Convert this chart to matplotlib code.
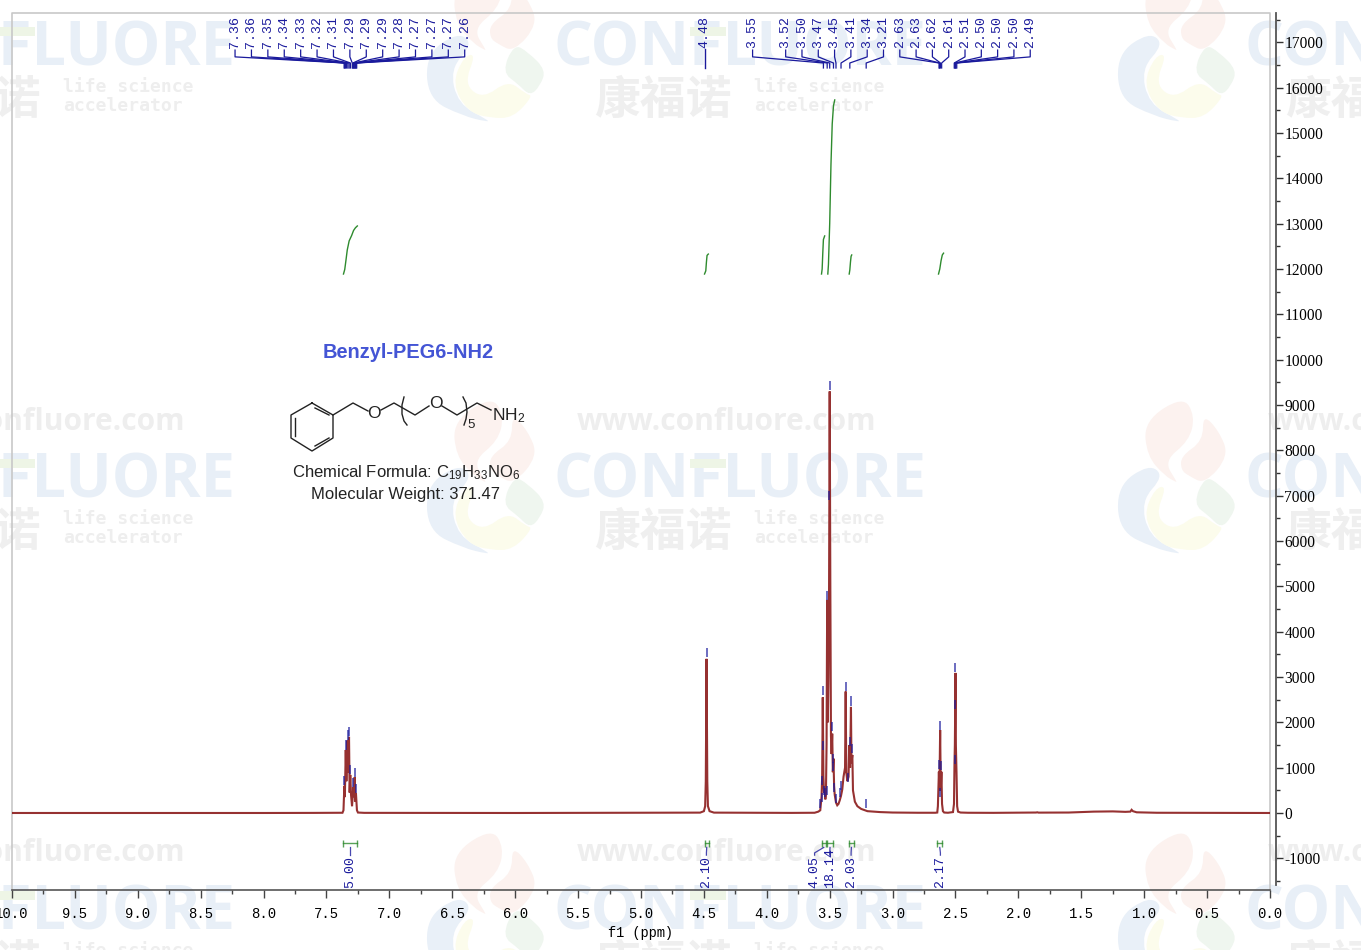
import matplotlib
matplotlib.use("Agg")
import matplotlib.pyplot as plt
from matplotlib.path import Path
from matplotlib.patches import PathPatch, Rectangle

plt.rcParams["axes.unicode_minus"] = False
plt.rcParams["mathtext.default"] = "regular"

# spectrum
spec_ppm = [10.0, 8.0, 7.6, 7.373, 7.365, 7.358, 7.354, 7.347, 7.342, 7.333, 7.327, 7.321, 7.316, 7.311, 7.305,
            7.297, 7.287, 7.281, 7.276, 7.271, 7.266, 7.258, 7.25, 7.2, 6.0, 4.53, 4.50, 4.49, 4.485, 4.481, 4.479,
            4.477, 4.473, 4.468, 4.455, 4.42, 3.8, 3.62, 3.59, 3.575, 3.565, 3.56, 3.555, 3.55, 3.545, 3.54, 3.535,
            3.53, 3.525, 3.52, 3.515, 3.51, 3.505, 3.50, 3.495, 3.49, 3.485, 3.48, 3.475, 3.47, 3.465, 3.46, 3.45,
            3.44, 3.43, 3.42, 3.41, 3.40, 3.39, 3.378, 3.373, 3.368, 3.36, 3.35, 3.345, 3.338, 3.331, 3.327, 3.32,
            3.315, 3.30, 3.28, 3.25, 3.20, 3.10, 3.0, 2.8, 2.66, 2.645, 2.64, 2.632, 2.628, 2.622, 2.617, 2.612,
            2.607, 2.60, 2.59, 2.56, 2.52, 2.512, 2.508, 2.505, 2.50, 2.497, 2.492, 2.487, 2.48, 2.46, 2.40, 2.2,
            1.86, 1.85, 1.84, 1.6, 1.4, 1.25, 1.15, 1.11, 1.10, 1.09, 1.06, 0.9, 0.0]
spec_val = [0, 0, 2, 5, 60, 600, 350, 1390, 700, 1600, 900, 1680, 450, 840, 400,
            150, 570, 350, 790, 250, 440, 60, 10, 3, 0, 8, 40, 150, 700, 2500, 3400,
            2500, 700, 150, 40, 8, 2, 5, 30, 60, 350, 800, 2550, 800, 450, 500, 300,
            400, 1500, 4700, 2000, 3000, 5000, 9300, 5000, 1700, 1300, 1750, 900, 1200, 600, 400, 230,
            170, 200, 280, 380, 520, 800, 1000, 2680, 900, 700, 800, 1500, 1000, 2340, 1100, 1280,
            500, 250, 150, 90, 40, 20, 10, 5, 5, 10, 150, 910, 500, 1830, 500, 910,
            200, 40, 10, 5, 20, 200, 1100, 1500, 3090, 1500, 900, 150, 30, 10, 5, 3,
            10, 15, 8, 10, 30, 35, 25, 30, 70, 40, 15, 5, 0]

# blue peak-pick ticks, value at the lower end of each tick
pick_ppm = [7.358, 7.347, 7.333, 7.321, 7.311, 7.287, 7.276, 7.266, 4.479, 3.58, 3.565, 3.56, 3.555, 3.552, 3.545,
            3.54, 3.52, 3.525, 3.50, 3.505, 3.48, 3.475, 3.47, 3.465, 3.45, 3.42, 3.41, 3.373, 3.331, 3.34, 3.32,
            3.353, 3.21, 2.632, 2.622, 2.622, 2.612, 2.50, 2.50, 2.50]
pick_val = [610, 1400, 1620, 1700, 850, 580, 800, 450, 3450, 110, 240, 620, 2600, 1390, 400,
            350, 4700, 400, 9330, 6900, 1800, 1100, 930, 470, 220, 350, 510, 2700, 2370, 1480, 1320,
            680, 110, 970, 1840, 350, 950, 3100, 2290, 1080]

# peak labels on top
peak_labels1 = ["7.36", "7.36", "7.35", "7.34", "7.33", "7.32", "7.31", "7.29", "7.29", "7.29", "7.28", "7.27",
                "7.27", "7.27", "7.26"]
peak_ppm1 = [7.36, 7.355, 7.35, 7.34, 7.33, 7.32, 7.31, 7.295, 7.29, 7.285, 7.28, 7.275, 7.27, 7.265, 7.26]
peak_labels2 = ["3.55", "3.52", "3.50", "3.47", "3.45", "3.41", "3.34", "3.21", "2.63", "2.63", "2.62", "2.61",
                "2.51", "2.50", "2.50", "2.50", "2.49"]
peak_ppm2 = [3.55, 3.52, 3.50, 3.47, 3.45, 3.41, 3.34, 3.21, 2.63, 2.628, 2.62, 2.61, 2.51, 2.505, 2.50, 2.497, 2.49]

# integrals: curve in the upper part, bracket and number at the bottom
int_curves = [
    ([7.365, 7.355, 7.345, 7.335, 7.32, 7.30, 7.285, 7.27, 7.255], [11890, 11990, 12200, 12420, 12620, 12740, 12850, 12910, 12950]),
    ([4.495, 4.485, 4.48, 4.475, 4.465], [11890, 11960, 12150, 12300, 12330]),
    ([3.565, 3.56, 3.555, 3.55, 3.54], [11890, 12000, 12350, 12650, 12730]),
    ([3.515, 3.51, 3.50, 3.49, 3.48, 3.47, 3.46], [11890, 12100, 13000, 14300, 15200, 15600, 15730]),
    ([3.345, 3.34, 3.335, 3.33, 3.325], [11890, 11980, 12150, 12280, 12310]),
    ([2.635, 2.625, 2.615, 2.605, 2.595], [11890, 12000, 12180, 12310, 12350]),
]
int_lo = [7.37, 4.495, 3.565, 3.525, 3.345, 2.645]
int_hi = [7.26, 4.46, 3.53, 3.47, 3.31, 2.605]
int_labels = ["5.00", "2.10", "4.05", "18.14", "2.03", "2.17"]
int_label_ppm = [7.315, 4.48, 3.62, 3.50, 3.33, 2.62]

x_ticks = [10.0, 9.5, 9.0, 8.5, 8.0, 7.5, 7.0, 6.5, 6.0, 5.5, 5.0, 4.5, 4.0, 3.5, 3.0, 2.5, 2.0, 1.5, 1.0, 0.5, 0.0]
x_minor = [9.75, 9.25, 8.75, 8.25, 7.75, 7.25, 6.75, 6.25, 5.75, 5.25, 4.75, 4.25, 3.75, 3.25, 2.75, 2.25, 1.75,
           1.25, 0.75, 0.25]
y_ticks = list(range(-1000, 18000, 1000))
y_minor = list(range(-1500, 18000, 1000))

BLUE = "#1a1a9c"
GREEN = "#2e8b2e"
RED = "#8b1a1a"

fig = plt.figure(figsize=(13.61, 9.5), dpi=100)

# background layer in pixel coordinates: watermark, frame, structure
bg = fig.add_axes([0, 0, 1, 1], zorder=0)
bg.set_xlim(0, 1361)
bg.set_ylim(950, 0)
bg.axis("off")


def blob(pts, col):
    # closed smooth outline through the midpoints of the given corners
    mids = [((pts[i][0] + pts[(i + 1) % len(pts)][0]) / 2, (pts[i][1] + pts[(i + 1) % len(pts)][1]) / 2)
            for i in range(len(pts))]
    verts = [mids[-1]]
    codes = [Path.MOVETO]
    for p, m in zip(pts, mids):
        verts += [p, m]
        codes += [Path.CURVE3, Path.CURVE3]
    bg.add_patch(PathPatch(Path(verts, codes), fc=col, ec="none", zorder=1))


def logo(cx, cy):
    shapes = [
        ("#e9f0f8", [(-30, -12), (-62, 10), (-60, 55), (-25, 72), (0, 78), (0, 76), (-30, 60), (-38, 25), (-15, 0)]),
        ("#fcfcec", [(-24, 12), (-36, 40), (-20, 68), (2, 74), (25, 74), (45, 52), (38, 50), (20, 36), (-5, 55), (-24, 40), (-12, 10)]),
        ("#fcf2ef", [(4, -80), (-35, -55), (-32, -20), (-14, 0), (-3, 6), (-2, 6), (-15, -15), (10, -35), (16, -60)]),
        ("#fcf2ef", [(24, -62), (24, -35), (2, -20), (2, -6), (10, 0), (26, 8), (50, -20), (40, -45)]),
        ("#eff6ef", [(26, 0), (40, 8), (58, 26), (52, 42), (42, 52), (30, 40), (14, 28)]),
    ]
    for col, pts in shapes:
        blob([(cx + p[0], cy + p[1]) for p in pts], col)


for dx in [-691, 0, 691]:
    for dy in [0, 432, 864]:
        logo(488 + dx, 44 + dy)
        bg.text(740 + dx, 50 + dy, "CONFLUORE", family="Open Sans", weight="bold", fontsize=44, color="#e8eff7",
                ha="center", va="center", zorder=2)
        bg.add_patch(Rectangle((690 + dx, 27 + dy), 36, 9, fc="#eef5e6", ec="none", zorder=3))
        bg.text(663 + dx, 101 + dy, "康福诺", family="Noto Sans CJK SC", weight="bold", fontsize=33, color="#efefef",
                ha="center", va="center", zorder=2)
        bg.text(754 + dx, 87 + dy, "life science", family="DejaVu Sans Mono", weight="bold", fontsize=13, color="#eeeeee",
                ha="left", va="center", zorder=2)
        bg.text(754 + dx, 106 + dy, "accelerator", family="DejaVu Sans Mono", weight="bold", fontsize=13, color="#eeeeee",
                ha="left", va="center", zorder=2)
    for dy in [0, 431]:
        bg.text(727 + dx, 422 + dy, "www.confluore.com", family="Open Sans", weight="bold", fontsize=21.5, color="#eeeeee",
                ha="center", va="center", zorder=2)

bg.plot([12, 12, 1270, 1270], [890, 13, 13, 890], color="#c8c8c8", lw=1.2, zorder=4)

# structure drawing
ring = [(312, 403), (333, 415), (333, 438), (312, 451), (291, 438), (291, 415), (312, 403)]
bg.plot([p[0] for p in ring], [p[1] for p in ring], color="#222222", lw=1, zorder=5)
for seg in [[(295, 418), (295, 436)], [(315, 408), (329, 415)], [(315, 446), (329, 438)],
            [(333, 415), (353, 403), (368, 411)], [(381, 410), (394, 403), (415, 415), (429, 406)],
            [(442, 406), (457, 415), (477, 403), (491, 410)]]:
    bg.plot([p[0] for p in seg], [p[1] for p in seg], color="#222222", lw=1, zorder=5)
bg.plot([404, 402, 402, 404, 407], [397, 405, 414, 421, 425], color="#222222", lw=1, zorder=5)
bg.plot([463, 466, 467, 466, 464], [397, 403, 412, 419, 425], color="#222222", lw=1, zorder=5)
font = dict(family="Liberation Sans", color="#222222", zorder=6)
bg.text(374, 414, "O", fontsize=12.5, ha="center", va="center", **font)
bg.text(436, 403, "O", fontsize=12.5, ha="center", va="center", **font)
bg.text(471, 425, "5", fontsize=9.5, ha="center", va="center", **font)
bg.text(492, 416, "NH$_2$", fontsize=12.5, ha="left", va="center", **font)
bg.text(408.5, 352, "Benzyl-PEG6-NH2", family="Liberation Sans", weight="bold", fontsize=14.4, color="#4455d5",
        ha="center", va="center", zorder=6)
bg.text(406.5, 473, "Chemical Formula: C$_{19}$H$_{33}$NO$_{6}$", fontsize=12, ha="center", va="center", **font)
bg.text(406, 494, "Molecular Weight: 371.47", fontsize=12, ha="center", va="center", **font)

# main axes
ax = fig.add_axes([12 / 1361, 60 / 950, 1258 / 1361, 877 / 950], zorder=1)
ax.patch.set_alpha(0)
ax.set_xlim(10.0, 0.0)
ax.set_ylim(-1699, 17648)

ax.plot(spec_ppm, spec_val, color=RED, lw=1.5, alpha=0.9, solid_joinstyle="miter")
ax.vlines(pick_ppm, pick_val, [v + 200 for v in pick_val], color=BLUE, lw=1.2, alpha=0.75)

# top labels with their leader lines
ax.plot([4.495, 4.495], [16435, 16860], color=BLUE, lw=1)
ax.text(4.495, 16880, "4.48", rotation=90, family="Liberation Mono", fontsize=9.5, color=BLUE, ha="center", va="bottom")


def leaders(labels, ppms, start, step):
    for i, (lab, p) in enumerate(zip(labels, ppms)):
        lx = start - i * step
        ax.text(lx, 16880, lab, rotation=90, family="Liberation Mono", fontsize=9.5, color=BLUE, ha="center", va="bottom")
        ax.plot([lx, lx, p, p], [16830, 16680, 16545, 16435], color=BLUE, lw=0.9)


leaders(peak_labels1, peak_ppm1, 8.227, 0.1304)
leaders(peak_labels2[:1], peak_ppm2[:1], 4.113, 0.13)
leaders(peak_labels2[1:], peak_ppm2[1:], 3.85, 0.1296)

for xs, ys in int_curves:
    ax.plot(xs, ys, color=GREEN, lw=1)

for lo, hi, lab, lp in zip(int_lo, int_hi, int_labels, int_label_ppm):
    ax.plot([lo, hi], [-660, -660], color=GREEN, lw=1, alpha=0.8)
    ax.vlines([lo, hi], -760, -590, color=GREEN, lw=1, alpha=0.8)
    mid = (lo + hi) / 2
    ax.plot([mid, lp, lp], [-760, -880, -930], color=BLUE, lw=0.9, alpha=0.8)
    ax.text(lp, -1650, lab, rotation=90, family="Liberation Mono", fontsize=9.5, color=BLUE, ha="center", va="bottom")

for s in ["left", "top"]:
    ax.spines[s].set_visible(False)
ax.spines["right"].set_position(("outward", 4.3))
ax.spines["right"].set_bounds(-1588, 17648)
ax.spines["right"].set_color("#555555")
ax.spines["right"].set_linewidth(1.3)
ax.spines["bottom"].set_color("#555555")
ax.spines["bottom"].set_linewidth(1.2)

ax.yaxis.tick_right()
ax.set_yticks(y_ticks)
ax.set_yticks(y_minor, minor=True)
ax.set_yticklabels([str(v) for v in y_ticks], family="Liberation Serif", fontsize=11.2)
ax.tick_params(axis="y", which="major", length=5, width=1, color="#333333", pad=1)
ax.tick_params(axis="y", which="minor", length=3, width=1, color="#333333")

ax.set_xticks(x_ticks)
ax.set_xticks(x_minor, minor=True)
ax.set_xticklabels([f"{v:.1f}" for v in x_ticks], family="Liberation Mono", fontsize=10)
ax.tick_params(axis="x", which="major", length=5.5, width=1, color="#444444", pad=7)
ax.tick_params(axis="x", which="minor", length=3, width=1, color="#444444")
ax.set_xlabel("f1 (ppm)", family="Liberation Mono", fontsize=9.8, labelpad=3)

fig.savefig("out.png", dpi=100)
